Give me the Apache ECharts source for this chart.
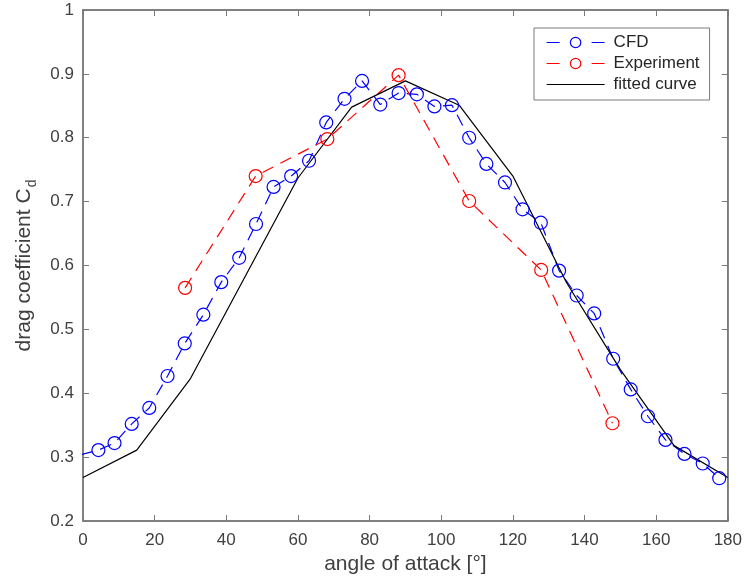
<!DOCTYPE html>
<html>
<head>
<meta charset="utf-8">
<script src="https://cdn.jsdelivr.net/npm/echarts@6/dist/echarts.min.js"></script>
<style>
html,body{margin:0;padding:0;background:#fff;}
#chart{width:745px;height:583px;}
</style>
</head>
<body>
<div id="chart"></div>
<script>
// ---- data ----
var cfdX = [-0.6, 4.3, 8.8, 13.6, 18.5, 23.6, 28.4, 33.6, 38.6, 43.6, 48.3, 53.2, 58.1, 63.1, 67.9, 73.0, 77.9, 83.0, 88.1, 93.2, 98.1, 103.0, 107.8, 112.6, 117.8, 122.7, 127.8, 132.9, 137.8, 142.7, 148.0, 152.9, 157.7, 162.6, 167.9, 173.0, 177.6];
var cfdY = [0.304, 0.311, 0.322, 0.352, 0.377, 0.427, 0.478, 0.523, 0.574, 0.612, 0.665, 0.723, 0.740, 0.764, 0.824, 0.861, 0.889, 0.852, 0.870, 0.868, 0.849, 0.851, 0.800, 0.759, 0.730, 0.688, 0.667, 0.592, 0.553, 0.525, 0.454, 0.406, 0.364, 0.327, 0.305, 0.290, 0.267];
var expX = [28.5, 48.2, 68.2, 88.1, 107.8, 127.9, 147.8];
var expY = [0.565, 0.740, 0.798, 0.898, 0.701, 0.593, 0.353];
var fitX = [0, 15, 30, 45, 60, 75, 90, 105, 120, 135, 150, 165, 180];
var fitY = [0.268, 0.311, 0.423, 0.580, 0.737, 0.848, 0.889, 0.851, 0.740, 0.573, 0.437, 0.318, 0.268];
var xTicks = {min: 0, max: 180, interval: 20};
var yTicks = {min: 0.2, max: 1, interval: 0.1};
var seriesNames = ['CFD', 'Experiment', 'fitted curve'];

function pairs(xs, ys) { return xs.map(function (x, i) { return [x, ys[i]]; }); }

var FONT = 'Liberation Sans, Arial, sans-serif';
var AXIS_COL = '#7a7a7a';
var LABEL_COL = '#404040';
var BLUE = '#0000ff', RED = '#ff0000';
var DASH = [12, 8];

var chart = echarts.init(document.getElementById('chart'), null, {renderer: 'canvas'});
var tickBase = {show: true, inside: true, length: 6, lineStyle: {color: AXIS_COL, width: 1}};
var option = {
  backgroundColor: '#ffffff',
  animation: false,
  grid: {left: 83, right: 16, top: 10, bottom: 62, show: true, borderColor: AXIS_COL, borderWidth: 1.5, backgroundColor: 'transparent'},
  legend: {
    orient: 'vertical', left: 534, top: 28,
    data: [
      {name: seriesNames[0], itemStyle: {color: 'transparent', borderColor: BLUE, borderWidth: 1.2}, lineStyle: {color: BLUE, width: 1.2, type: [13, 32]}},
      {name: seriesNames[1], itemStyle: {color: 'transparent', borderColor: RED, borderWidth: 1.2}, lineStyle: {color: RED, width: 1.2, type: [13, 32]}},
      {name: seriesNames[2], itemStyle: {color: 'transparent', borderColor: 'transparent', borderWidth: 0}, lineStyle: {color: '#000', width: 1.2, type: 'solid'}}
    ],
    itemWidth: 58, itemHeight: 13, itemGap: 4,
    padding: [6, 10, 7, 12],
    borderColor: AXIS_COL, borderWidth: 1, backgroundColor: '#ffffff',
    textStyle: {fontFamily: FONT, fontSize: 17, lineHeight: 17, color: '#262626', padding: [0, 0, 0, 4]}
  },
  xAxis: [{
    type: 'value', min: xTicks.min, max: xTicks.max, interval: xTicks.interval,
    name: 'angle of attack [°]', nameLocation: 'middle', nameGap: 33,
    nameTextStyle: {fontFamily: FONT, fontSize: 21, color: LABEL_COL},
    axisLine: {show: true, onZero: false, lineStyle: {color: AXIS_COL, width: 1.5}},
    axisTick: tickBase,
    axisLabel: {fontFamily: FONT, fontSize: 17, color: LABEL_COL, margin: 11},
    splitLine: {show: false}
  }, {
    type: 'value', position: 'top', min: xTicks.min, max: xTicks.max, interval: xTicks.interval,
    axisLine: {show: true, onZero: false, lineStyle: {color: AXIS_COL, width: 1.5}},
    axisTick: tickBase, axisLabel: {show: false}, splitLine: {show: false}
  }],
  yAxis: [{
    type: 'value', min: yTicks.min, max: yTicks.max, interval: yTicks.interval,
    name: '{a|drag coefficient C}{b|d}', nameLocation: 'middle', nameGap: 47, nameRotate: 90,
    nameTextStyle: {
      fontFamily: FONT, color: LABEL_COL,
      rich: {
        a: {fontFamily: FONT, fontSize: 21, color: LABEL_COL, lineHeight: 24, verticalAlign: 'bottom'},
        b: {fontFamily: FONT, fontSize: 14, color: LABEL_COL, lineHeight: 24, verticalAlign: 'bottom', padding: [0, 0, -5, 1]}
      }
    },
    axisLine: {show: true, onZero: false, lineStyle: {color: AXIS_COL, width: 1.5}},
    axisTick: tickBase,
    axisLabel: {fontFamily: FONT, fontSize: 17, color: LABEL_COL, margin: 9},
    splitLine: {show: false}
  }, {
    type: 'value', position: 'right', min: yTicks.min, max: yTicks.max, interval: yTicks.interval,
    axisLine: {show: true, onZero: false, lineStyle: {color: AXIS_COL, width: 1.5}},
    axisTick: tickBase, axisLabel: {show: false}, splitLine: {show: false}
  }],
  series: [{
    name: seriesNames[0], type: 'line', data: pairs(cfdX, cfdY), clip: true,
    symbol: 'circle', symbolSize: 13, showAllSymbol: true,
    lineStyle: {color: BLUE, width: 1.2, type: DASH},
    itemStyle: {color: 'transparent', borderColor: BLUE, borderWidth: 1.2},
    emphasis: {disabled: true}
  }, {
    name: seriesNames[1], type: 'line', data: pairs(expX, expY), clip: true,
    symbol: 'circle', symbolSize: 13, showAllSymbol: true,
    lineStyle: {color: RED, width: 1.2, type: DASH},
    itemStyle: {color: 'transparent', borderColor: RED, borderWidth: 1.2},
    emphasis: {disabled: true}
  }, {
    name: seriesNames[2], type: 'line', data: pairs(fitX, fitY), clip: true,
    symbol: 'none', showSymbol: false,
    lineStyle: {color: '#000000', width: 1.2, type: 'solid'},
    itemStyle: {color: '#000000'},
    emphasis: {disabled: true}
  }]
};
chart.setOption(option);
</script>
</body>
</html>
